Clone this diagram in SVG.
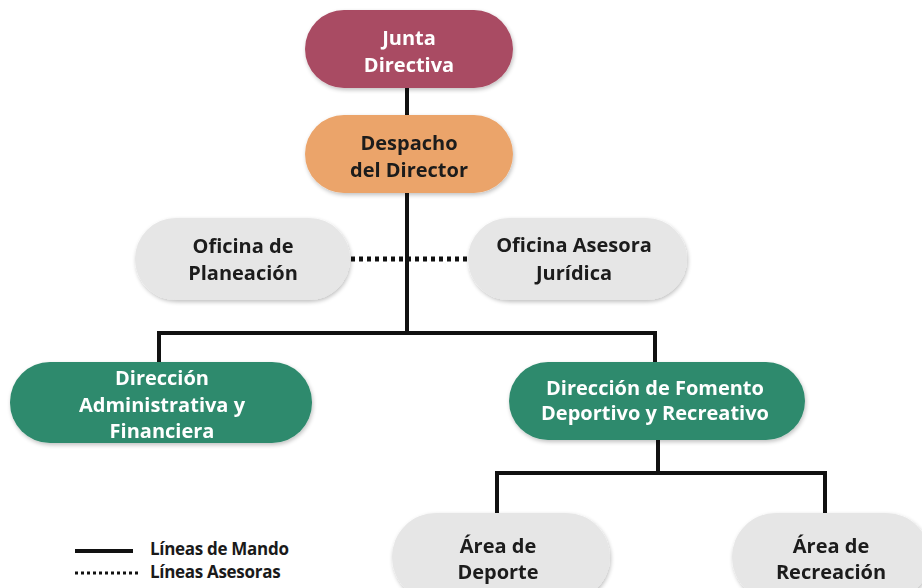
<svg xmlns="http://www.w3.org/2000/svg" width="922" height="588" viewBox="0 0 922 588">
<defs>
<filter id="sh" x="-10%" y="-20%" width="120%" height="150%">
<feGaussianBlur in="SourceAlpha" stdDeviation="2"/>
<feOffset dx="1" dy="2" result="b"/>
<feComponentTransfer><feFuncA type="linear" slope="0.25"/></feComponentTransfer>
<feMerge><feMergeNode/><feMergeNode in="SourceGraphic"/></feMerge>
</filter>
</defs>
<style>
.t{font-family:"Open Sans","Liberation Sans",sans-serif;font-weight:bold;text-anchor:middle}
.w{fill:#ffffff;font-size:20px}
.d{fill:#1a1a1a;font-size:20px}
.g{fill:#2f8a6d}
.gr{fill:#e6e6e6}
.ln{stroke:#111;stroke-width:4;fill:none}
.dot{stroke:#111;stroke-width:5;fill:none;stroke-dasharray:4 4}
.lg{font-family:"Open Sans","Liberation Sans",sans-serif;font-weight:bold;font-size:17px;fill:#1a1a1a;letter-spacing:-0.3px}
</style>
<rect width="922" height="588" fill="#ffffff"/>
<g id="connectors">
<line class="ln" x1="407" y1="86" x2="407" y2="117"/>
<line class="ln" x1="407" y1="192" x2="407" y2="333"/>
<polyline class="ln" points="159,362 159,333 655,333 655,362"/>
<line class="dot" x1="351" y1="259" x2="468" y2="259"/>
<line class="ln" x1="658" y1="440" x2="658" y2="473"/>
<polyline class="ln" points="497,513 497,473 825,473 825,513"/>
</g>
<g id="junta" filter="url(#sh)">
<rect x="305" y="10" width="208" height="78" rx="39" fill="#a94b63"/>
<text class="t w" x="409" y="45">Junta</text>
<text class="t w" x="409" y="72">Directiva</text>
</g>
<g id="despacho" filter="url(#sh)">
<rect x="305" y="115" width="208" height="78" rx="39" fill="#eba46a"/>
<text class="t d" x="409" y="150">Despacho</text>
<text class="t d" x="409" y="177">del Director</text>
</g>
<g id="planeacion" filter="url(#sh)">
<rect class="gr" x="135" y="218" width="215" height="82" rx="41"/>
<text class="t d" x="243" y="253">Oficina de</text>
<text class="t d" x="243" y="280">Planeación</text>
</g>
<g id="juridica" filter="url(#sh)">
<rect class="gr" x="468" y="218" width="219" height="82" rx="41"/>
<text class="t d" x="574" y="252">Oficina Asesora</text>
<text class="t d" x="574" y="280">Jurídica</text>
</g>
<g id="dir-admin" filter="url(#sh)">
<rect class="g" x="10" y="362" width="302" height="81" rx="40"/>
<text class="t w" x="162" y="385">Dirección</text>
<text class="t w" x="162" y="412">Administrativa y</text>
<text class="t w" x="162" y="438">Financiera</text>
</g>
<g id="dir-fomento" filter="url(#sh)">
<rect class="g" x="509" y="362" width="296" height="78" rx="39"/>
<text class="t w" x="655" y="395">Dirección de Fomento</text>
<text class="t w" x="655" y="420">Deportivo y Recreativo</text>
</g>
<g id="deporte" filter="url(#sh)">
<rect class="gr" x="392" y="513" width="218" height="88" rx="44"/>
<text class="t d" x="498" y="553">Área de</text>
<text class="t d" x="498" y="579">Deporte</text>
</g>
<g id="recreacion" filter="url(#sh)">
<rect class="gr" x="732" y="513" width="198" height="88" rx="44"/>
<text class="t d" x="831" y="553">Área de</text>
<text class="t d" x="831" y="579">Recreación</text>
</g>
<g id="legend">
<line class="ln" x1="75" y1="551" x2="133" y2="551"/>
<line class="dot" x1="75" y1="573" x2="141" y2="573" style="stroke-width:3;stroke-dasharray:3 3"/>
<text class="lg" x="150" y="555">Líneas de Mando</text>
<text class="lg" x="150" y="578">Líneas Asesoras</text>
</g>
</svg>
